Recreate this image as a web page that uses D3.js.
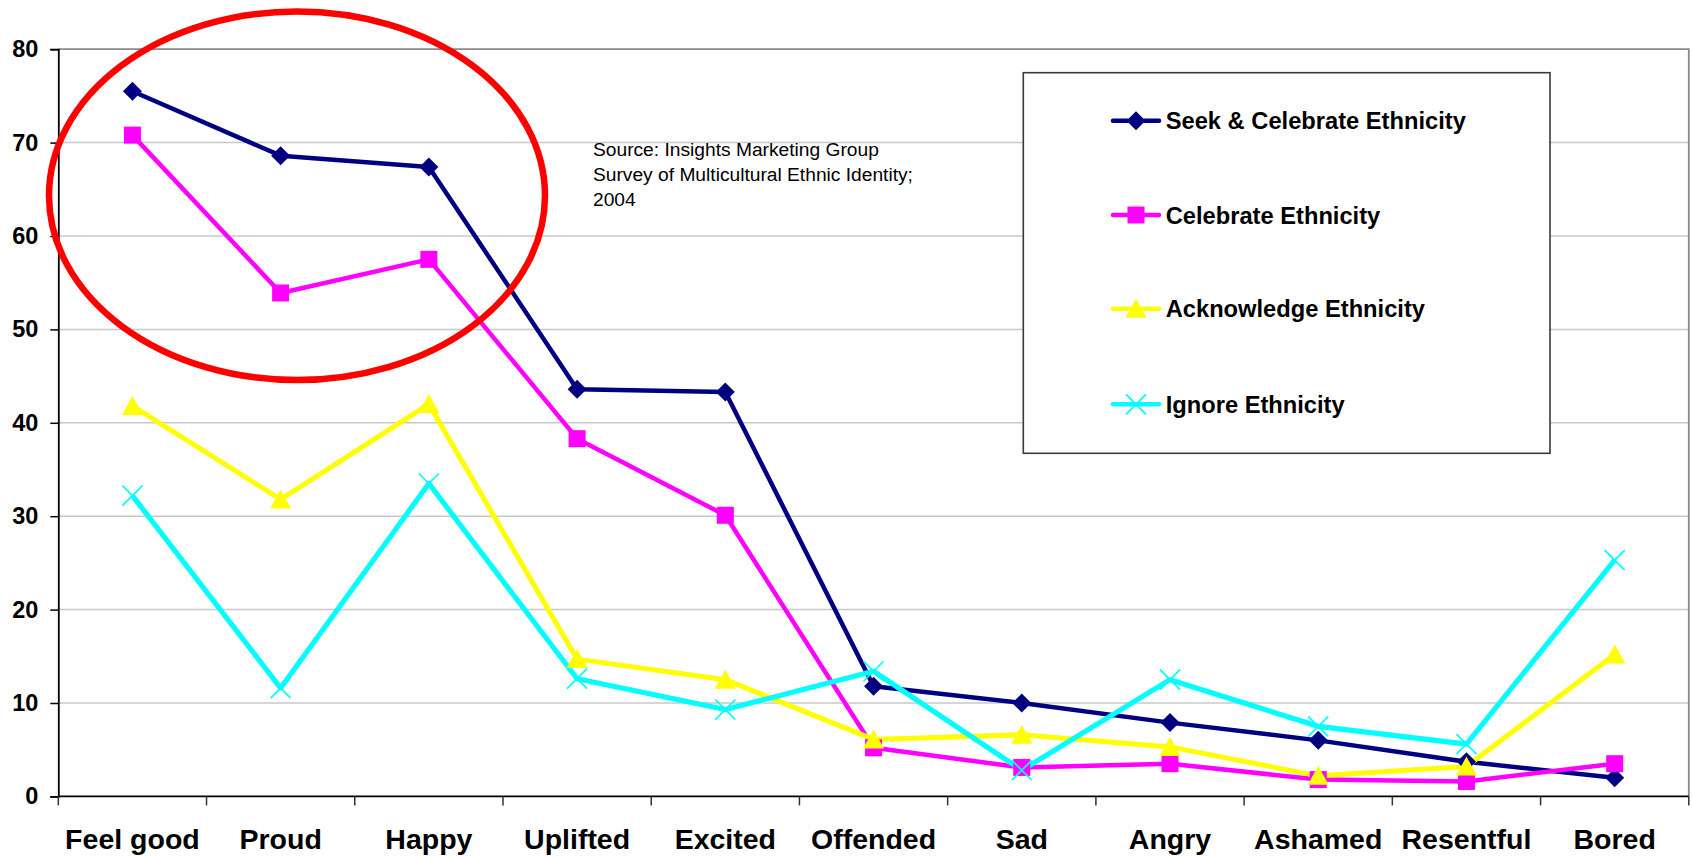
<!DOCTYPE html>
<html>
<head>
<meta charset="utf-8">
<script src="https://cdn.jsdelivr.net/npm/d3@7"></script>
<style>
  html, body { margin: 0; padding: 0; background: #ffffff; }
  svg { display: block; font-family: "Liberation Sans", Arial, sans-serif; }
</style>
</head>
<body>
<svg id="chart" width="1692" height="858"></svg>
<script>
// ---- data ----
const categories = ["Feel good", "Proud", "Happy", "Uplifted", "Excited", "Offended", "Sad", "Angry", "Ashamed", "Resentful", "Bored"];
const seekCelebrate = [75.5, 68.6, 67.4, 43.6, 43.3, 11.8, 10.0, 7.9, 6.0, 3.7, 2.0];
const celebrate     = [70.8, 53.9, 57.5, 38.3, 30.1, 5.2, 3.1, 3.5, 1.8, 1.6, 3.5];
const acknowledge   = [41.8, 31.8, 42.0, 14.7, 12.5, 6.1, 6.6, 5.3, 2.2, 3.2, 15.2];
const ignore        = [32.2, 11.6, 33.5, 12.6, 9.3, 13.4, 2.8, 12.5, 7.5, 5.6, 25.3];
const seriesNames   = ["Seek & Celebrate Ethnicity", "Celebrate Ethnicity", "Acknowledge Ethnicity", "Ignore Ethnicity"];
const seriesColors  = ["#000080", "#ff00ff", "#ffff00", "#00ffff"];
const seriesMarkers = ["diamond", "square", "triangle", "x"];
const yTicks = [0, 10, 20, 30, 40, 50, 60, 70, 80];
const sourceLines = ["Source: Insights Marketing Group", "Survey of Multicultural Ethnic Identity;", "2004"];

const series = [seekCelebrate, celebrate, acknowledge, ignore].map((vals, i) => ({
  name: seriesNames[i], color: seriesColors[i], marker: seriesMarkers[i],
  values: vals.map((v, j) => ({ cat: categories[j], v }))
}));

// ---- layout ----
const svg = d3.select("#chart");
svg.append("rect").attr("width", 1692).attr("height", 858).attr("fill", "#ffffff");

const plot = { left: 58.3, right: 1688.8, top: 49.2, bottom: 796.4 };
const x = d3.scaleBand().domain(categories).range([plot.left, plot.right]).padding(0);
const y = d3.scaleLinear().domain([0, 80]).range([plot.bottom, plot.top]);
const cx = c => x(c) + x.bandwidth() / 2;

// gridlines
svg.append("g").selectAll("line").data(yTicks.filter(t => t > 0 && t < 80)).join("line")
  .attr("x1", plot.left).attr("x2", plot.right)
  .attr("y1", d => y(d)).attr("y2", d => y(d))
  .attr("stroke", "#c8c8c8").attr("stroke-width", 1.5);

// plot border top/right
svg.append("path")
  .attr("d", `M${plot.left},${y(80)}H${plot.right}V${plot.bottom}`)
  .attr("fill", "none").attr("stroke", "#8a8a8a").attr("stroke-width", 1.8);

// y axis
const yAxis = svg.append("g").attr("transform", `translate(${plot.left},0)`)
  .call(d3.axisLeft(y).tickValues(yTicks).tickSize(8).tickPadding(12).tickFormat(d3.format("d")));
yAxis.select(".domain").attr("stroke", "#000").attr("stroke-width", 1.8);
yAxis.selectAll(".tick line").attr("stroke", "#000").attr("stroke-width", 1.5);
yAxis.selectAll(".tick text").attr("font-size", 23.5).attr("font-weight", "bold")
  .attr("fill", "#000").attr("font-family", "'Liberation Sans', Arial, sans-serif");

// x axis
const xAxis = svg.append("g").attr("transform", `translate(0,${plot.bottom})`)
  .call(d3.axisBottom(x).tickSize(0).tickPadding(32));
xAxis.select(".domain").remove();
xAxis.selectAll(".tick text").attr("font-size", 28.5).attr("font-weight", "bold")
  .attr("fill", "#000").attr("font-family", "'Liberation Sans', Arial, sans-serif");
svg.append("line").attr("x1", plot.left).attr("x2", plot.right)
  .attr("y1", plot.bottom).attr("y2", plot.bottom).attr("stroke", "#000").attr("stroke-width", 1.8);
const boundaries = categories.map(c => x(c)).concat([x(categories[categories.length - 1]) + x.bandwidth()]);
svg.append("g").selectAll("line").data(boundaries).join("line")
  .attr("x1", d => d).attr("x2", d => d)
  .attr("y1", plot.bottom).attr("y2", plot.bottom + 9)
  .attr("stroke", "#333").attr("stroke-width", 1.5);

// source text
svg.append("text").attr("x", 593).attr("y", 156)
  .attr("font-size", 19.2).attr("fill", "#000")
  .selectAll("tspan").data(sourceLines).join("tspan")
  .attr("x", 593).attr("dy", (d, i) => i === 0 ? 0 : 25).text(d => d);

// marker drawing
function drawMarker(g, type, color) {
  if (type === "diamond") {
    g.append("path").attr("d", "M0,-9.5L9.5,0L0,9.5L-9.5,0Z").attr("fill", color);
  } else if (type === "square") {
    g.append("rect").attr("x", -8.5).attr("y", -8.5).attr("width", 17).attr("height", 17).attr("fill", color);
  } else if (type === "triangle") {
    g.append("path").attr("d", "M0,-10L10.5,9L-10.5,9Z").attr("fill", color);
  } else {
    g.append("path").attr("d", "M-10,-10L10,10M-10,10L10,-10")
      .attr("stroke", color).attr("stroke-width", 1.7).attr("fill", "none");
  }
}

// series lines
const line = d3.line().x(d => cx(d.cat)).y(d => y(d.v));
const lineWidths = [4.5, 4.5, 5, 5.2];
series.forEach((s, i) => {
  svg.append("path").datum(s.values).attr("d", line)
    .attr("fill", "none").attr("stroke", s.color).attr("stroke-width", lineWidths[i])
    .attr("stroke-linejoin", "round");
});
series.forEach(s => {
  svg.append("g").selectAll("g").data(s.values).join("g")
    .attr("transform", d => `translate(${cx(d.cat)},${y(d.v)})`)
    .each(function () { drawMarker(d3.select(this), s.marker, s.color); });
});

// legend
const legend = svg.append("g");
legend.append("rect").attr("x", 1023.3).attr("y", 72.7).attr("width", 526.7).attr("height", 380.6)
  .attr("fill", "#ffffff").attr("stroke", "#3a3a3a").attr("stroke-width", 1.6);
const legendY = [120.7, 215, 308.7, 404.3];
series.forEach((s, i) => {
  const g = legend.append("g").attr("transform", `translate(0,${legendY[i]})`);
  g.append("line").attr("x1", 1113).attr("x2", 1159).attr("y1", 0).attr("y2", 0)
    .attr("stroke", s.color).attr("stroke-width", 4.5).attr("stroke-linecap", "round");
  const m = g.append("g").attr("transform", "translate(1136,0)");
  drawMarker(m, s.marker, s.color);
  g.append("text").attr("x", 1165.7).attr("y", 8.6).attr("font-size", 23.7).attr("font-weight", "bold")
    .attr("fill", "#000").text(s.name);
});

// highlight ellipse
svg.append("ellipse").attr("cx", 297).attr("cy", 195.7).attr("rx", 248).attr("ry", 184.3)
  .attr("fill", "none").attr("stroke", "#ff0000").attr("stroke-width", 6.5);
</script>
</body>
</html>
